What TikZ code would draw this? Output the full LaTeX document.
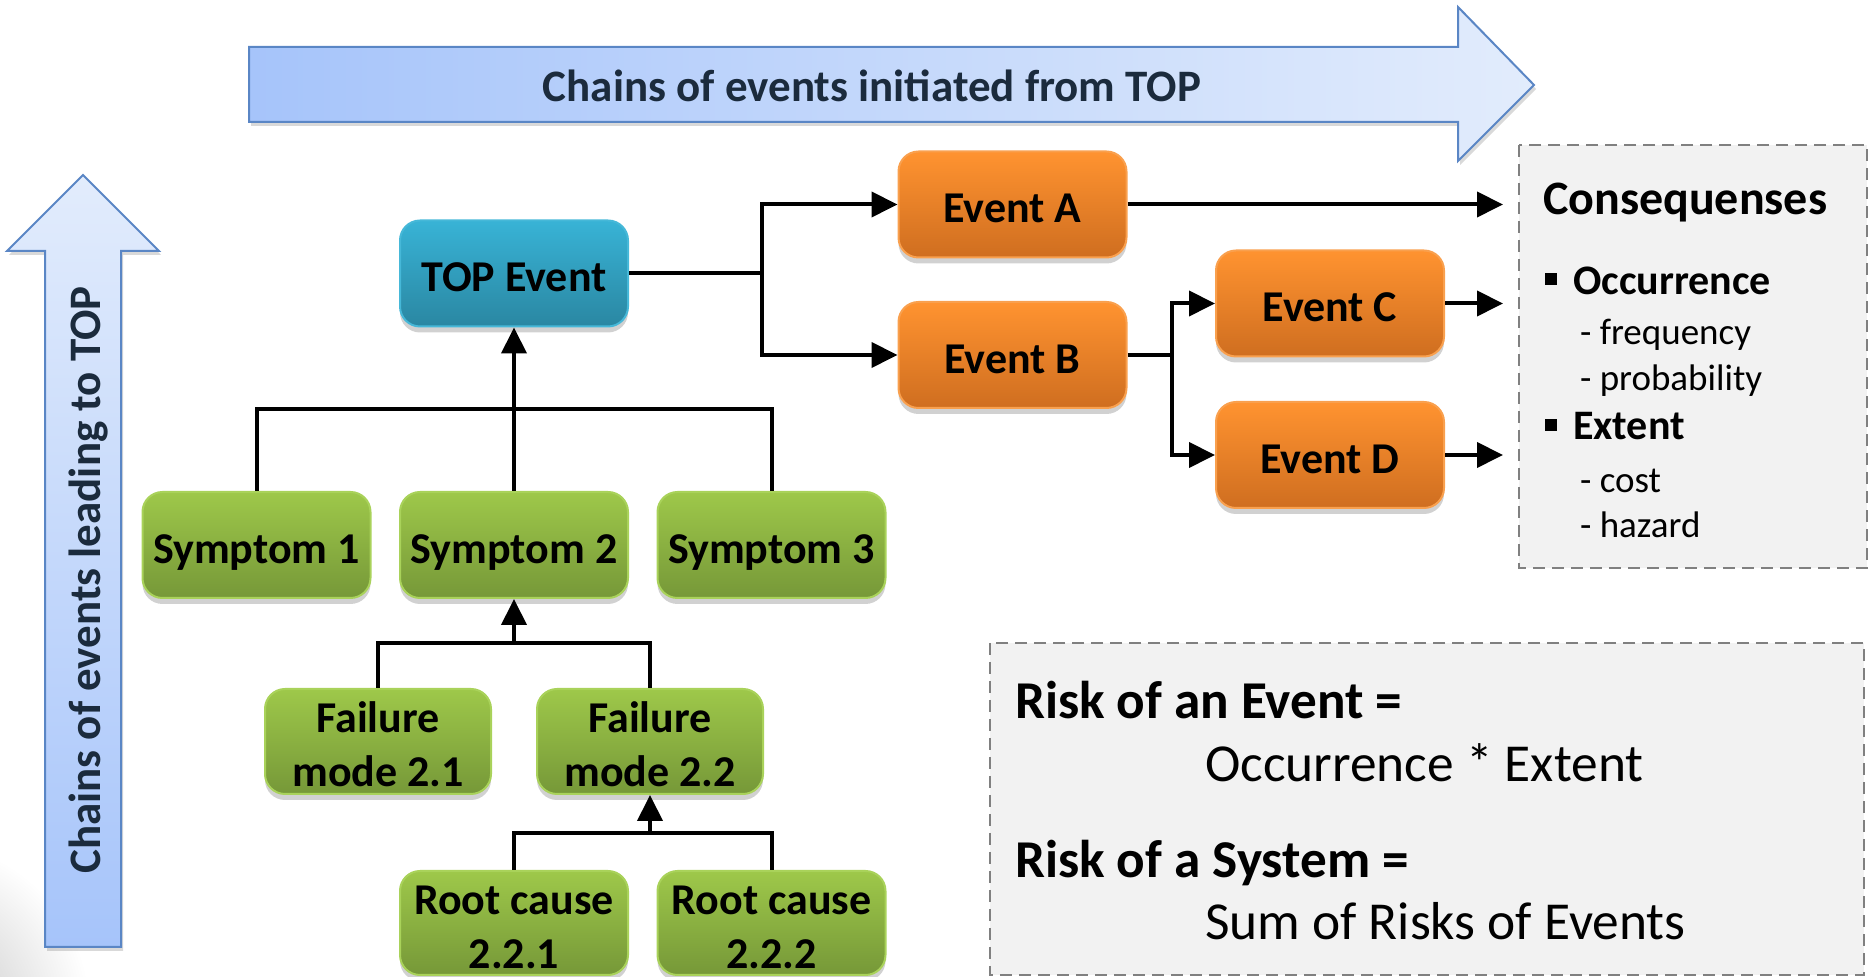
\documentclass[tikz,border=0pt]{standalone}
\usepackage{fontspec}
\setmainfont{Carlito}
\usetikzlibrary{arrows.meta,shadows}
\definecolor{arrowL}{HTML}{A6C4FA}
\definecolor{arrowR}{HTML}{E2ECFC}
\definecolor{arrowLine}{HTML}{5A86C5}
\definecolor{navy}{HTML}{1B2B3D}
\definecolor{topT}{HTML}{38B3D6}
\definecolor{topB}{HTML}{2A87A2}
\definecolor{topD}{HTML}{46B8D8}
\definecolor{orT}{HTML}{FF9330}
\definecolor{orB}{HTML}{CF6E20}
\definecolor{orD}{HTML}{F9A04E}
\definecolor{grT}{HTML}{9EC84A}
\definecolor{grB}{HTML}{769838}
\definecolor{grD}{HTML}{A9D25A}
\definecolor{panel}{HTML}{F2F2F2}
\definecolor{dashgray}{HTML}{808080}
\newcommand\boxone[1]{\rule[-5pt]{0pt}{28.5pt}#1}
\newcommand\boxtwo[2]{\rule{0pt}{21.5pt}#1\\#2\rule[-3pt]{0pt}{3pt}}
\tikzset{
  box/.style={rounded corners=10pt, minimum width=114pt, minimum height=53pt,
    inner sep=2pt, align=center, line width=1pt,
    font=\fontsize{22}{27}\selectfont\bfseries,
    drop shadow={shadow xshift=0pt, shadow yshift=-3pt, opacity=0.3, fill=black!60}},
  two/.style={inner ysep=0pt},
  topbox/.style={box, top color=topT, bottom color=topB, draw=topD},
  orbox/.style={box, top color=orT, bottom color=orB, draw=orD},
  grbox/.style={box, top color=grT, bottom color=grB, draw=grD},
  conn/.style={line width=2pt, black},
  arr/.style={conn, -{Triangle[length=13pt,width=12.5pt]}},
  panelbox/.style={draw=dashgray, fill=panel, line width=1pt, dash pattern=on 6pt off 3.5pt},
  bigarrow/.style={draw=arrowLine, line width=1pt,
    drop shadow={shadow xshift=1pt, shadow yshift=-2pt, opacity=0.25, fill=black!60}},
  arrowtext/.style={font=\fontsize{22.5}{26}\selectfont\bfseries, text=navy},
  ctitle/.style={anchor=base west, font=\fontsize{24}{28}\selectfont\bfseries},
  cbold/.style={anchor=base west, font=\fontsize{21}{25}\selectfont\bfseries},
  citem/.style={anchor=base west, font=\fontsize{18.5}{22}\selectfont},
  rbold/.style={anchor=base west, font=\fontsize{26.6}{30}\selectfont\bfseries},
  rtext/.style={anchor=base west, font=\fontsize{26.7}{30}\selectfont}
}
\begin{document}
\begin{tikzpicture}[x=0.5pt,y=-0.5pt]
\useasboundingbox (0,0) rectangle (1876,977);
\clip (0,0) rectangle (1876,977);
% faint shading bottom-left
\shade[inner color=black!24, outer color=white] (-80,1010) circle (170);

% big horizontal arrow
\path[bigarrow, left color=arrowL, right color=arrowR]
  (249,47) -- (1458,47) -- (1458,7) -- (1534,85) -- (1458,161) -- (1458,122) -- (249,122) -- cycle;
\node[arrowtext, anchor=base] (htext) at (872,102) {Chains of events initiated from TOP};

% big vertical arrow
\path[bigarrow, bottom color=arrowL, top color=arrowR]
  (45,947) -- (45,251) -- (7,251) -- (83,175) -- (159,251) -- (121,251) -- (121,947) -- cycle;
\node[arrowtext, anchor=base, rotate=90] (vtext) at (100,580) {Chains of events leading to TOP};

% panels
\path[panelbox] (1519,145) rectangle (1867,568);
\node[ctitle] (ctitle) at (1536,215) {Consequenses};
\fill (1545,273) rectangle (1557,285);
\node[cbold] (occ) at (1566,295) {Occurrence};
\node[citem] (freq) at (1573,345) {- frequency};
\node[citem] (prob) at (1573,391) {- probability};
\fill (1545,419) rectangle (1557,431);
\node[cbold] (ext) at (1566,440) {Extent};
\node[citem] (cost) at (1573,493) {- cost};
\node[citem] (haz) at (1573,538) {- hazard};

\path[panelbox] (990,643) rectangle (1864,975);
\node[rbold] (r1) at (1008,719) {Risk of an Event =};
\node[rtext] (r2) at (1198,782) {Occurrence * Extent};
\node[rbold] (r3) at (1008,878) {Risk of a System =};
\node[rtext] (r4) at (1198,940) {Sum of Risks of Events};

% boxes
\node[topbox] (TOP) at (514,273.5) {\boxone{TOP Event}};
\node[grbox] (S1) at (256.5,545) {\boxone{Symptom 1}};
\node[grbox] (S2) at (514,545) {\boxone{Symptom 2}};
\node[grbox] (S3) at (771.5,545) {\boxone{Symptom 3}};
\node[grbox, two, minimum width=113pt, minimum height=52.5pt] (F1) at (378,741.5) {\boxtwo{Failure}{mode 2.1}};
\node[grbox, two, minimum width=113pt, minimum height=52.5pt] (F2) at (650,741.5) {\boxtwo{Failure}{mode 2.2}};
\node[grbox, two, minimum height=52pt] (R1) at (514,923) {\boxtwo{Root cause}{2.2.1}};
\node[grbox, two, minimum height=52pt] (R2) at (771.5,923) {\boxtwo{Root cause}{2.2.2}};
\node[orbox] (EA) at (1012.5,204.5) {\boxone{Event A}};
\node[orbox] (EB) at (1012.5,355) {\boxone{Event B}};
\node[orbox] (EC) at (1330,303.5) {\boxone{Event C}};
\node[orbox] (ED) at (1330,455) {\boxone{Event D}};

% connectors
\coordinate (j1) at (762,273.5);
\coordinate (j2) at (1172,355);
\coordinate (cA) at (1503,204.5);
\coordinate (cC) at (1503,303.5);
\coordinate (cD) at (1503,455);
\coordinate (s) at (514,409);
\coordinate (f) at (514,643);
\coordinate (r) at (650,833);

\draw[conn] (TOP.east) -- (j1);
\draw[arr] (j1) |- (EA.west);
\draw[arr] (j1) |- (EB.west);
\draw[arr] (EA.east) -- (cA);
\draw[conn] (EB.east) -- (j2);
\draw[arr] (j2) |- (EC.west);
\draw[arr] (j2) |- (ED.west);
\draw[arr] (EC.east) -- (cC);
\draw[arr] (ED.east) -- (cD);

\draw[conn] (S1.north) |- (s) -| (S3.north);
\draw[conn] (S2.north) -- (s);
\draw[arr] (s) -- (TOP.south);

\draw[conn] (F1.north) |- (f) -| (F2.north);
\draw[arr] (f) -- (S2.south);

\draw[conn] (R1.north) |- (r) -| (R2.north);
\draw[arr] (r) -- (F2.south);
\end{tikzpicture}
\end{document}
